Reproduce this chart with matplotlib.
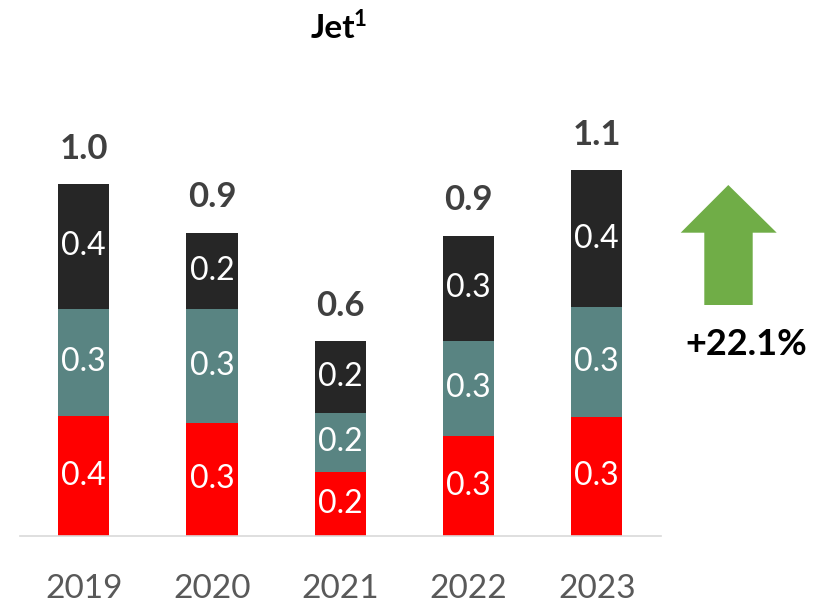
import matplotlib.pyplot as plt
from matplotlib.patches import Polygon
import numpy as np

plt.rcParams['font.family'] = ['Lato', 'DejaVu Sans']

years = ["2019", "2020", "2021", "2022", "2023"]
red_vals = [0.352, 0.331, 0.188, 0.293, 0.348]
teal_vals = [0.313, 0.332, 0.173, 0.278, 0.321]
dark_vals = [0.363, 0.224, 0.208, 0.307, 0.401]
change_label = "+22.1%"

colors = ["#FF0000", "#598482", "#262626"]

W, H = 822, 606
fig = plt.figure(figsize=(W / 100, H / 100), dpi=100)
ax = fig.add_axes([19.65 / W, 70 / H, 641.2 / W, 536 / H])

x = np.arange(len(years))
bottom = np.zeros(len(years))
for vals, c in zip([red_vals, teal_vals, dark_vals], colors):
    vals = np.array(vals)
    ax.bar(x, vals, width=0.4, bottom=bottom, color=c, linewidth=0)
    for xi, b, v in zip(x, bottom, vals):
        ax.text(xi, b + v / 2, f"{v:.1f}", ha="center", va="center",
                color="white", fontsize=23)
    bottom = bottom + vals

for xi, tot in zip(x, bottom):
    ax.annotate(f"{tot:.1f}", (xi, tot), xytext=(0, 14), textcoords="offset points",
                ha="center", va="bottom", fontsize=25, fontweight="bold", color="#404040")

ax.set_xlim(-0.5, 4.5)
ax.set_ylim(0, 536 / 342)
for s in ["top", "right", "left"]:
    ax.spines[s].set_visible(False)
ax.spines["bottom"].set_color("#D9D9D9")
ax.spines["bottom"].set_linewidth(1.2)
ax.set_yticks([])
ax.set_xticks(x)
ax.set_xticklabels(years, fontsize=24, color="#595959")
ax.tick_params(axis="x", length=0, pad=27)

# title
fig.text(333 / W, 1 - 28 / H, "Jet", ha="center", va="center",
         fontsize=24, fontweight="bold", color="black")
fig.text(354 / W, 1 - 19 / H, "1", ha="left", va="center",
         fontsize=16, fontweight="bold", color="black")

# green arrow
pts = [(728.3, 185), (776.7, 232.7), (752.7, 232.7), (752.7, 305),
       (704.3, 305), (704.3, 232.7), (680.7, 232.7)]
arrow = Polygon([(px / W, 1 - py / H) for px, py in pts], closed=True,
                transform=fig.transFigure, facecolor="#70AD47", edgecolor="none")
fig.patches.append(arrow)
fig.text(746.7 / W, 1 - 345 / H, change_label, ha="center", va="center",
         fontsize=26, fontweight="bold", color="black")

fig.savefig("out.png", dpi=100)
